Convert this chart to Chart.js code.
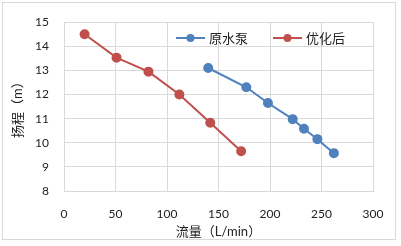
<!DOCTYPE html>
<html>
<head>
<meta charset="utf-8">
<script src="https://cdn.jsdelivr.net/npm/chart.js@4"></script>
<style>
  html, body { margin: 0; padding: 0; background: #fff; }
  #wrap { width: 401px; height: 246px; }
</style>
</head>
<body>
<div id="wrap"><canvas id="chart" width="401" height="246"></canvas></div>
<script>
const seriesNames = ["原水泵", "优化后"];
const pumpFlow = [140, 177, 198, 222, 233, 246, 262];
const pumpHead = [13.1, 12.3, 11.65, 10.98, 10.58, 10.15, 9.57];
const optFlow = [20, 51, 82, 112, 142, 172];
const optHead = [14.5, 13.53, 12.95, 12.0, 10.83, 9.65];
const xTitle = "流量（L/min）";
const yTitle = "扬程（m）";

const fontFamily = "Lato, 'Noto Sans CJK SC', sans-serif";
const blue = "#4F81BD";
const red = "#C0504D";

function toPoints(xs, ys) {
  return xs.map((x, i) => ({ x: x, y: ys[i] }));
}

// outer frame + legend drawn in the spot the reference has it
const framePlugin = {
  id: "frame",
  beforeDraw(chart) {
    const ctx = chart.ctx;
    ctx.save();
    ctx.fillStyle = "#fff";
    ctx.fillRect(0, 0, chart.width, chart.height);
    ctx.strokeStyle = "#D9D9D9";
    ctx.lineWidth = 1;
    ctx.strokeRect(2.5, 2.5, 393, 237);
    ctx.restore();
  },
  afterDraw(chart) {
    const ctx = chart.ctx;
    const starts = [176, 273];
    const y = 38;
    ctx.save();
    chart.data.datasets.forEach((ds, i) => {
      const x0 = starts[i];
      ctx.strokeStyle = ds.borderColor;
      ctx.lineWidth = 2;
      ctx.beginPath();
      ctx.moveTo(x0, y);
      ctx.lineTo(x0 + 29, y);
      ctx.stroke();
      ctx.fillStyle = ds.backgroundColor;
      ctx.beginPath();
      ctx.arc(x0 + 14.5, y, 4, 0, Math.PI * 2);
      ctx.fill();
      ctx.fillStyle = "#222";
      ctx.font = "13px " + fontFamily;
      ctx.textBaseline = "middle";
      ctx.textAlign = "left";
      ctx.fillText(ds.label, x0 + 33, y + 1);
    });
    ctx.restore();
  }
};

new Chart(document.getElementById("chart"), {
  type: "scatter",
  data: {
    datasets: [
      {
        label: seriesNames[0],
        data: toPoints(pumpFlow, pumpHead),
        showLine: true,
        borderColor: blue,
        backgroundColor: blue,
        borderWidth: 2,
        pointRadius: 4,
        pointHoverRadius: 4
      },
      {
        label: seriesNames[1],
        data: toPoints(optFlow, optHead),
        showLine: true,
        borderColor: red,
        backgroundColor: red,
        borderWidth: 2,
        pointRadius: 4,
        pointHoverRadius: 4
      }
    ]
  },
  options: {
    responsive: false,
    animation: false,
    layout: { padding: { left: 0, top: 19, right: 28, bottom: 0 } },
    plugins: {
      legend: { display: false },
      tooltip: { enabled: false }
    },
    scales: {
      x: {
        type: "linear",
        min: 0,
        max: 300,
        ticks: { stepSize: 50, padding: 16, color: "#222", font: { family: fontFamily, size: 12 } },
        grid: { color: "#D9D9D9", drawTicks: false },
        border: { color: "#D9D9D9" },
        title: {
          display: true,
          text: xTitle,
          color: "#222",
          font: { family: fontFamily, size: 13 },
          padding: { top: 0, bottom: 6 }
        },
        afterFit(scale) { scale.height = 55; }
      },
      y: {
        type: "linear",
        min: 8,
        max: 15,
        ticks: { stepSize: 1, padding: 15, color: "#222", font: { family: fontFamily, size: 12 } },
        grid: { color: "#D9D9D9", drawTicks: false },
        border: { color: "#D9D9D9" },
        title: {
          display: true,
          text: yTitle,
          color: "#222",
          font: { family: fontFamily, size: 13 },
          padding: { top: 10, bottom: 0 }
        },
        afterFit(scale) { scale.width = 64; }
      }
    }
  },
  plugins: [framePlugin]
});
</script>
</body>
</html>
